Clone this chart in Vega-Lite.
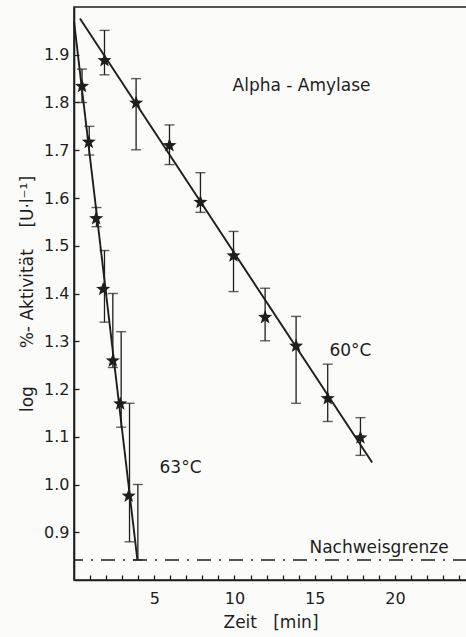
{
  "$schema": "https://vega.github.io/schema/vega-lite/v6.json",
  "width": 393,
  "height": 573,
  "autosize": {"type": "none"},
  "padding": {"left": 74, "top": 7, "right": 0, "bottom": 57},
  "background": "#fbfbf9",
  "config": {
    "font": "DejaVu Sans",
    "view": {"stroke": "#1e1e1e", "strokeWidth": 1.6},
    "axis": {
      "domainColor": "#1e1e1e", "domainWidth": 1.6,
      "tickColor": "#1e1e1e", "tickWidth": 1.3,
      "labelColor": "#1e1e1e", "titleColor": "#1e1e1e",
      "labelFont": "DejaVu Sans", "titleFont": "DejaVu Sans",
      "labelFontSize": 16, "titleFontSize": 17, "titleFontWeight": "normal",
      "grid": false, "labelOverlap": false, "labelFlush": false
    }
  },
  "datasets": {
    "stars": [
      {"series": "63", "t": 0.5, "v": 1.834},
      {"series": "63", "t": 0.92, "v": 1.717},
      {"series": "63", "t": 1.38, "v": 1.557},
      {"series": "63", "t": 1.82, "v": 1.409},
      {"series": "63", "t": 2.42, "v": 1.259},
      {"series": "63", "t": 2.88, "v": 1.169},
      {"series": "63", "t": 3.41, "v": 0.976},
      {"series": "60", "t": 1.9, "v": 1.888},
      {"series": "60", "t": 3.87, "v": 1.799},
      {"series": "60", "t": 5.95, "v": 1.71},
      {"series": "60", "t": 7.88, "v": 1.591},
      {"series": "60", "t": 9.94, "v": 1.479},
      {"series": "60", "t": 11.91, "v": 1.35},
      {"series": "60", "t": 13.84, "v": 1.29},
      {"series": "60", "t": 15.81, "v": 1.18},
      {"series": "60", "t": 17.85, "v": 1.098}
    ],
    "bars": [
      {"series": "63", "t": 0.5, "lo": 1.8, "hi": 1.87},
      {"series": "63", "t": 0.95, "lo": 1.69, "hi": 1.75},
      {"series": "63", "t": 1.4, "lo": 1.54, "hi": 1.58},
      {"series": "63", "t": 1.9, "lo": 1.34, "hi": 1.49},
      {"series": "63", "t": 2.42, "lo": 1.245, "hi": 1.4},
      {"series": "63", "t": 2.94, "lo": 1.12, "hi": 1.32},
      {"series": "63", "t": 3.46, "lo": 0.88, "hi": 1.17},
      {"series": "63", "t": 3.98, "lo": 0.842, "hi": 1.0},
      {"series": "60", "t": 1.9, "lo": 1.858, "hi": 1.951},
      {"series": "60", "t": 3.87, "lo": 1.701, "hi": 1.85},
      {"series": "60", "t": 5.95, "lo": 1.67, "hi": 1.753},
      {"series": "60", "t": 7.88, "lo": 1.57, "hi": 1.653},
      {"series": "60", "t": 9.94, "lo": 1.404, "hi": 1.53},
      {"series": "60", "t": 11.91, "lo": 1.301, "hi": 1.411},
      {"series": "60", "t": 13.84, "lo": 1.17, "hi": 1.352},
      {"series": "60", "t": 15.81, "lo": 1.132, "hi": 1.252},
      {"series": "60", "t": 17.85, "lo": 1.061, "hi": 1.14}
    ],
    "fits": [
      {"series": "60", "t": 0.37, "v": 1.976},
      {"series": "60", "t": 18.58, "v": 1.046},
      {"series": "63", "t": 0.0, "v": 1.97},
      {"series": "63", "t": 3.95, "v": 0.842}
    ],
    "labels": [
      {"label": "Alpha - Amylase", "t": 9.88, "v": 1.835},
      {"label": "60°C", "t": 15.92, "v": 1.28},
      {"label": "63°C", "t": 5.33, "v": 1.035},
      {"label": "Nachweisgrenze", "t": 14.67, "v": 0.867}
    ],
    "limit": [{"limit": 0.842}]
  },
  "layer": [
    {
      "data": {"name": "fits"},
      "mark": {"type": "line", "color": "#1e1e1e", "strokeWidth": 1.9},
      "encoding": {
        "x": {
          "field": "t", "type": "quantitative",
          "scale": {"domain": [0, 24.49], "nice": false, "zero": false},
          "title": "Zeit\u00a0\u00a0 [min]",
          "axis": {
            "values": [1, 2, 3, 4, 5, 6, 7, 8, 9, 10, 11, 12, 13, 14, 15, 16, 17, 18, 19, 20, 21, 22, 23, 24],
            "tickCount": 40,
            "format": "d",
            "labelExpr": "datum.value % 5 === 0 ? datum.label : ''",
            "labelOverlap": false, "labelFlush": false,
            "tickSize": -5, "labelPadding": 15, "titlePadding": 8
          }
        },
        "y": {
          "field": "v", "type": "quantitative",
          "scale": {"domain": [0.8, 2.0], "nice": false, "zero": false},
          "title": "log\u00a0\u00a0\u00a0\u00a0\u00a0\u00a0 %-\u00a0Aktivität\u00a0\u00a0\u00a0 [U·l⁻¹]",
          "axis": {
            "values": [0.9, 1.0, 1.1, 1.2, 1.3, 1.4, 1.5, 1.6, 1.7, 1.8, 1.9],
            "tickCount": 20,
            "format": ".1f",
            "labelOverlap": false,
            "tickSize": -5, "labelPadding": 10, "titlePadding": 7
          }
        },
        "detail": {"field": "series"}
      }
    },
    {
      "data": {"name": "limit"},
      "mark": {"type": "rule", "color": "#1e1e1e", "strokeWidth": 1.4, "strokeDash": [14, 8, 2, 8]},
      "encoding": {
        "y": {"field": "limit", "type": "quantitative", "title": "log\u00a0\u00a0\u00a0\u00a0\u00a0\u00a0 %-\u00a0Aktivität\u00a0\u00a0\u00a0 [U·l⁻¹]"}
      }
    },
    {
      "data": {"name": "bars"},
      "mark": {"type": "errorbar", "ticks": {"size": 10, "thickness": 1.4, "color": "#1e1e1e"}, "rule": {"strokeWidth": 1.3, "color": "#1e1e1e"}},
      "encoding": {
        "x": {"field": "t", "type": "quantitative", "title": "Zeit\u00a0\u00a0 [min]"},
        "y": {"field": "lo", "type": "quantitative", "title": "log\u00a0\u00a0\u00a0\u00a0\u00a0\u00a0 %-\u00a0Aktivität\u00a0\u00a0\u00a0 [U·l⁻¹]"},
        "y2": {"field": "hi"}
      }
    },
    {
      "data": {"name": "stars"},
      "mark": {"type": "point", "filled": true, "color": "#1e1e1e", "opacity": 1, "size": 220,
        "shape": "M0,-1L0.247,-0.34L0.951,-0.309L0.399,0.13L0.588,0.809L0,0.42L-0.588,0.809L-0.399,0.13L-0.951,-0.309L-0.247,-0.34Z"},
      "encoding": {
        "x": {"field": "t", "type": "quantitative", "title": "Zeit\u00a0\u00a0 [min]"},
        "y": {"field": "v", "type": "quantitative", "title": "log\u00a0\u00a0\u00a0\u00a0\u00a0\u00a0 %-\u00a0Aktivität\u00a0\u00a0\u00a0 [U·l⁻¹]"}
      }
    },
    {
      "data": {"name": "labels"},
      "mark": {"type": "text", "align": "left", "baseline": "middle", "fontSize": 17, "color": "#1e1e1e", "font": "DejaVu Sans"},
      "encoding": {
        "x": {"field": "t", "type": "quantitative", "title": "Zeit\u00a0\u00a0 [min]"},
        "y": {"field": "v", "type": "quantitative", "title": "log\u00a0\u00a0\u00a0\u00a0\u00a0\u00a0 %-\u00a0Aktivität\u00a0\u00a0\u00a0 [U·l⁻¹]"},
        "text": {"field": "label"}
      }
    }
  ]
}
